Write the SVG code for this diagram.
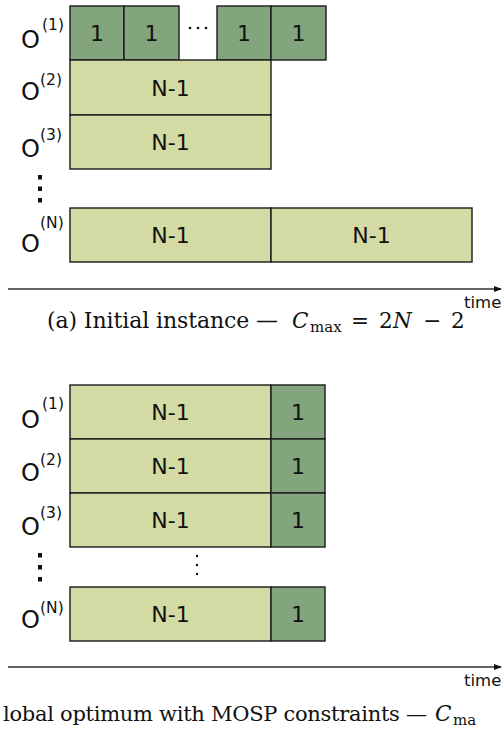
<svg xmlns="http://www.w3.org/2000/svg" width="502" height="735" viewBox="0 0 502 735">
<defs>
<style>
.d{fill:#83a57d;stroke:#1a1a1a;stroke-width:1.4}
.l{fill:#d3daa3;stroke:#1a1a1a;stroke-width:1.4}
.t{font-family:"DejaVu Sans",Verdana,sans-serif;fill:#111;text-anchor:middle;font-size:22px}
.o{font-family:"DejaVu Sans",Verdana,sans-serif;fill:#111;font-size:24px}
.s{font-family:"DejaVu Sans",Verdana,sans-serif;fill:#111;font-size:15.5px}
.ax{stroke:#333;stroke-width:1.4;fill:none}
.cap{font-family:"DejaVu Serif","Liberation Serif",serif;fill:#111;font-size:21.5px}
.tm{font-family:"DejaVu Sans",sans-serif;fill:#111;font-size:16.5px}
.dot{fill:#111}
</style>
<marker id="ah" markerWidth="8" markerHeight="6" refX="7" refY="3" orient="auto" markerUnits="userSpaceOnUse">
<path d="M0,0 L8,3 L0,6 Z" fill="#111"/>
</marker>
</defs>

<g id="top">
<g id="a-o1">
<text class="o" x="21" y="48">O</text><text class="s" x="42" y="30">(1)</text>
<rect class="d" x="70" y="6" width="54" height="54"/><text class="t" x="97" y="41">1</text>
<rect class="d" x="124" y="6" width="55" height="54"/><text class="t" x="151.5" y="41">1</text>
<circle class="dot" cx="190" cy="28" r="1.3"/><circle class="dot" cx="198" cy="28" r="1.3"/><circle class="dot" cx="206" cy="28" r="1.3"/>
<rect class="d" x="217" y="6" width="54" height="54"/><text class="t" x="244" y="41">1</text>
<rect class="d" x="271" y="6" width="55" height="54"/><text class="t" x="298.5" y="41">1</text>
</g>
<g id="a-o2">
<text class="o" x="21" y="100">O</text><text class="s" x="40" y="85">(2)</text>
<rect class="l" x="70" y="60" width="201" height="55"/><text class="t" x="170.5" y="95.5">N-1</text>
</g>
<g id="a-o3">
<text class="o" x="21" y="157">O</text><text class="s" x="40" y="140">(3)</text>
<rect class="l" x="70" y="115" width="201" height="54"/><text class="t" x="170.5" y="150">N-1</text>
</g>
<g id="a-dots">
<rect class="dot" x="38" y="175" width="4" height="4.5"/>
<rect class="dot" x="38" y="186.5" width="4" height="4.5"/>
<rect class="dot" x="38" y="198" width="4" height="4.5"/>
</g>
<g id="a-on">
<text class="o" x="21" y="252">O</text><text class="s" x="40" y="228">(N)</text>
<rect class="l" x="70" y="208" width="201" height="54"/><text class="t" x="170.5" y="243">N-1</text>
<rect class="l" x="271" y="208" width="201" height="54"/><text class="t" x="371.5" y="243">N-1</text>
</g>
<text class="tm" x="464" y="308">time</text>
<text class="cap" y="328"><tspan x="47" font-size="22" textLength="231" lengthAdjust="spacing">(a) Initial instance —</tspan><tspan x="292" font-style="italic">C</tspan><tspan x="310" dy="4" font-size="15">max</tspan><tspan x="351" dy="-4">=</tspan><tspan x="379">2</tspan><tspan x="393" font-style="italic">N</tspan><tspan x="423">−</tspan><tspan x="451">2</tspan></text>
</g>

<g id="bottom">
<g id="b-o1">
<text class="o" x="21" y="428">O</text><text class="s" x="42" y="409">(1)</text>
<rect class="l" x="70" y="385" width="201" height="54"/><text class="t" x="170.5" y="420">N-1</text>
<rect class="d" x="271" y="385" width="54" height="54"/><text class="t" x="298" y="420">1</text>
</g>
<g id="b-o2">
<text class="o" x="21" y="481">O</text><text class="s" x="40" y="465">(2)</text>
<rect class="l" x="70" y="439" width="201" height="54"/><text class="t" x="170.5" y="474">N-1</text>
<rect class="d" x="271" y="439" width="54" height="54"/><text class="t" x="298" y="474">1</text>
</g>
<g id="b-o3">
<text class="o" x="21" y="535">O</text><text class="s" x="40" y="518">(3)</text>
<rect class="l" x="70" y="493" width="201" height="54"/><text class="t" x="170.5" y="528">N-1</text>
<rect class="d" x="271" y="493" width="54" height="54"/><text class="t" x="298" y="528">1</text>
</g>
<g id="b-dots">
<rect class="dot" x="38" y="553" width="4" height="4.5"/>
<rect class="dot" x="38" y="565" width="4" height="4.5"/>
<rect class="dot" x="38" y="577" width="4" height="4.5"/>
<circle class="dot" cx="197" cy="556" r="1.2"/>
<circle class="dot" cx="197" cy="565" r="1.2"/>
<circle class="dot" cx="197" cy="574" r="1.2"/>
</g>
<g id="b-on">
<text class="o" x="21" y="628">O</text><text class="s" x="40" y="613">(N)</text>
<rect class="l" x="70" y="587" width="201" height="54"/><text class="t" x="170.5" y="622">N-1</text>
<rect class="d" x="271" y="587" width="54" height="54"/><text class="t" x="298" y="622">1</text>
</g>
<text class="tm" x="464" y="686">time</text>
<text class="cap" y="721"><tspan x="3" font-size="21" textLength="424" lengthAdjust="spacing">lobal optimum with MOSP constraints —</tspan><tspan x="435" font-style="italic">C</tspan><tspan x="453" dy="4" font-size="15">ma</tspan></text>
</g>

<g id="connectors">
<line class="ax" x1="8" y1="289" x2="501" y2="289" marker-end="url(#ah)"/>
<line class="ax" x1="8" y1="667" x2="501" y2="667" marker-end="url(#ah)"/>
</g>
</svg>
